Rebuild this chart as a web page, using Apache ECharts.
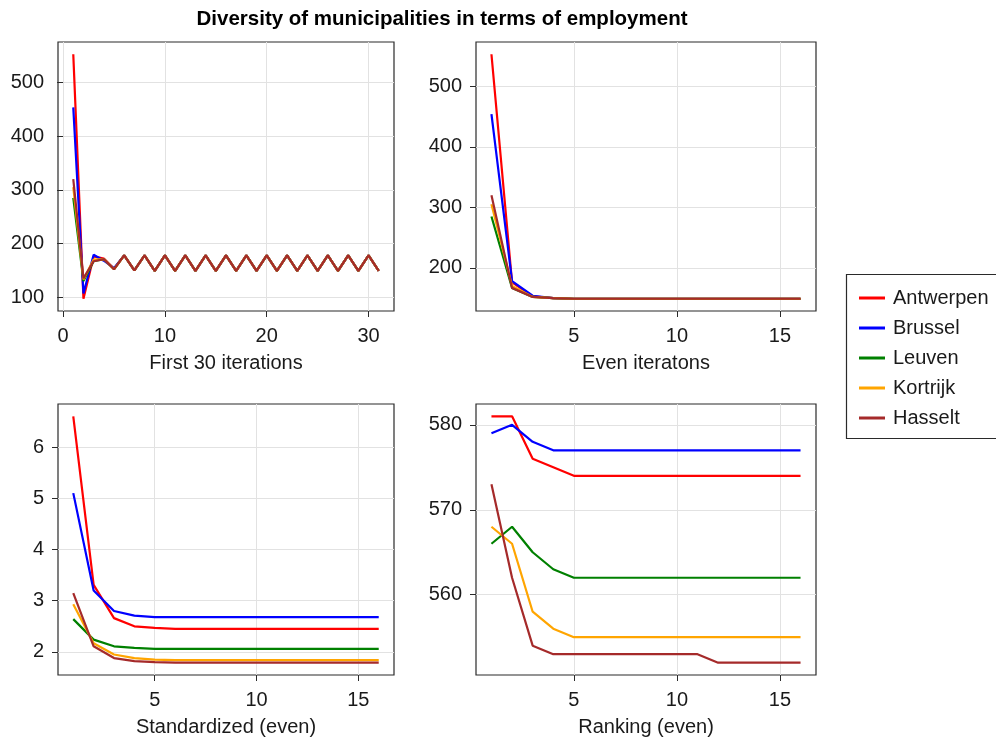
<!DOCTYPE html>
<html><head><meta charset="utf-8">
<script src="https://cdn.jsdelivr.net/npm/echarts@6/dist/echarts.min.js"></script>
<style>html,body{margin:0;padding:0;background:#fff}#c{width:996px;height:742px}</style>
</head><body><div id="c"></div>
<script>
const seriesNames = ['Antwerpen','Brussel','Leuven','Kortrijk','Hasselt'];
const seriesColors = ['#ff0000','#0000ff','#008000','#ffa500','#a52a2a'];

// Panel 1: first 30 iterations (x = 1..31)
const firstAntwerpen = [553,97,176,172,153,178,150,178,149,178,149,178,149,178,149,178,149,178,149,178,149,178,149,178,149,178,149,178,149,178,149];
const firstBrussel   = [454,107,179,168,154,178,150,178,149,178,149,178,149,178,149,178,149,178,149,178,149,178,149,178,149,178,149,178,149,178,149];
const firstLeuven    = [285,130,167,171,152,178,150,178,149,178,149,178,149,178,149,178,149,178,149,178,149,178,149,178,149,178,149,178,149,178,149];
const firstKortrijk  = [305,133,170,171,152,178,150,178,149,178,149,178,149,178,149,178,149,178,149,178,149,178,149,178,149,178,149,178,149,178,149];
const firstHasselt   = [320,135,167,171,152,178,150,178,149,178,149,178,149,178,149,178,149,178,149,178,149,178,149,178,149,178,149,178,149,178,149];

// Panel 2: even iterations (x = 1..16)
const evenAntwerpen = [553,176,153,150,149,149,149,149,149,149,149,149,149,149,149,149];
const evenBrussel   = [454,178,154,150,149,149,149,149,149,149,149,149,149,149,149,149];
const evenLeuven    = [285,167,152,150,149,149,149,149,149,149,149,149,149,149,149,149];
const evenKortrijk  = [305,170,152,150,149,149,149,149,149,149,149,149,149,149,149,149];
const evenHasselt   = [320,167,152,150,149,149,149,149,149,149,149,149,149,149,149,149];

// Panel 3: standardized (even)
const stdAntwerpen = [6.60,3.31,2.66,2.50,2.47,2.45,2.45,2.45,2.45,2.45,2.45,2.45,2.45,2.45,2.45,2.45];
const stdBrussel   = [5.10,3.20,2.80,2.71,2.68,2.68,2.68,2.68,2.68,2.68,2.68,2.68,2.68,2.68,2.68,2.68];
const stdLeuven    = [2.64,2.24,2.11,2.08,2.06,2.06,2.06,2.06,2.06,2.06,2.06,2.06,2.06,2.06,2.06,2.06];
const stdKortrijk  = [2.93,2.17,1.95,1.88,1.85,1.84,1.84,1.84,1.84,1.84,1.84,1.84,1.84,1.84,1.84,1.84];
const stdHasselt   = [3.15,2.11,1.88,1.82,1.80,1.79,1.79,1.79,1.79,1.79,1.79,1.79,1.79,1.79,1.79,1.79];

// Panel 4: ranking (even)
const rankAntwerpen = [581,581,576,575,574,574,574,574,574,574,574,574,574,574,574,574];
const rankBrussel   = [579,580,578,577,577,577,577,577,577,577,577,577,577,577,577,577];
const rankLeuven    = [566,568,565,563,562,562,562,562,562,562,562,562,562,562,562,562];
const rankKortrijk  = [568,566,558,556,555,555,555,555,555,555,555,555,555,555,555,555];
const rankHasselt   = [573,562,554,553,553,553,553,553,553,553,553,552,552,552,552,552];

const panelTitles = ['First 30 iterations','Even iteratons','Standardized (even)','Ranking (even)'];
const xTicks = [[0,10,20,30],[5,10,15],[5,10,15],[5,10,15]];
const yTicks = [[100,200,300,400,500],[200,300,400,500],[2,3,4,5,6],[560,570,580]];
const panelData = [
  [firstAntwerpen,firstBrussel,firstLeuven,firstKortrijk,firstHasselt],
  [evenAntwerpen,evenBrussel,evenLeuven,evenKortrijk,evenHasselt],
  [stdAntwerpen,stdBrussel,stdLeuven,stdKortrijk,stdHasselt],
  [rankAntwerpen,rankBrussel,rankLeuven,rankKortrijk,rankHasselt]
];

const FONT = '"Liberation Sans", Arial, sans-serif';
const TXT = '#1a1a1a';
const grids = [
  {left:58, top:42, width:336, height:269},
  {left:476, top:42, width:340, height:269},
  {left:58, top:404, width:336, height:271},
  {left:476, top:404, width:340, height:271}
];

function autoLimits(arrs){
  let lo=Infinity, hi=-Infinity;
  arrs.forEach(a=>a.forEach(v=>{lo=Math.min(lo,v);hi=Math.max(hi,v);}));
  const m=(hi-lo)*0.05; return [lo-m, hi+m];
}

const xAxes=[], yAxes=[], series=[];
panelData.forEach((arrs,p)=>{
  const n = arrs[0].length;
  const xm = (n-1)*0.05;
  const yl = autoLimits(arrs);
  const tick = {show:true, inside:false, length:6, lineStyle:{color:'#2a2a2a',width:1}};
  const split = {show:true, lineStyle:{color:'#e2e2e2',width:1}};
  const lab = {color:TXT, fontSize:20, fontFamily:FONT};
  xAxes.push({
    type:'value', gridIndex:p, min:1-xm, max:n+xm,
    axisLine:{show:false}, splitLine:split,
    axisTick:Object.assign({}, tick, {customValues:xTicks[p]}),
    axisLabel:Object.assign({}, lab, {customValues:xTicks[p], margin:15}),
    name:panelTitles[p], nameLocation:'middle', nameGap:42,
    nameTextStyle:{color:TXT, fontSize:20, fontFamily:FONT}
  });
  yAxes.push({
    type:'value', gridIndex:p, min:yl[0], max:yl[1],
    axisLine:{show:false}, splitLine:split,
    axisTick:Object.assign({}, tick, {customValues:yTicks[p]}),
    axisLabel:Object.assign({}, lab, {customValues:yTicks[p], margin:14})
  });
  arrs.forEach((a,s)=>{
    series.push({
      type:'line', name:seriesNames[s], xAxisIndex:p, yAxisIndex:p,
      data:a.map((v,i)=>[i+1,v]), showSymbol:false, symbol:'none',
      lineStyle:{color:seriesColors[s], width:2.2}, itemStyle:{color:seriesColors[s]},
      animation:false, z:2+s
    });
  });
});

const chart = echarts.init(document.getElementById('c'), null, {renderer:'canvas'});
chart.setOption({
  backgroundColor:'#fff',
  animation:false,
  title:{text:'Diversity of municipalities in terms of employment', left:437, top:4, textAlign:'center',
    textStyle:{fontSize:20.5, fontWeight:'bold', color:'#000', fontFamily:FONT}},
  grid:grids.map(g=>Object.assign({show:true, borderColor:'#2a2a2a', borderWidth:1.2, backgroundColor:'transparent'}, g)),
  xAxis:xAxes, yAxis:yAxes, series:series,
  legend:{orient:'vertical', left:854, top:283, itemWidth:26, itemHeight:3, itemGap:10,
    icon:'rect', data:seriesNames,
    textStyle:{fontSize:20, fontFamily:FONT, color:TXT, lineHeight:20, padding:[0,0,0,3]}},
  graphic:[{type:'rect', shape:{x:846.5, y:274.5, width:160, height:164}, style:{fill:'none', stroke:'#2a2a2a', lineWidth:1.2}, silent:true}]
});
</script></body></html>
